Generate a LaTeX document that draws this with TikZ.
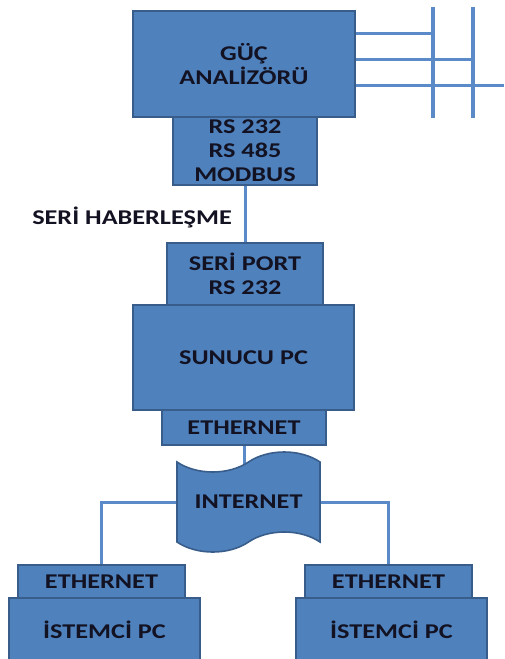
\documentclass[tikz,border=0pt]{standalone}
\usepackage{fontspec}
\newfontfamily\diagfont[FakeStretch=1.25]{Carlito}
\usetikzlibrary{shapes.symbols,backgrounds}
\definecolor{boxfill}{HTML}{4F81BD}
\definecolor{boxline}{HTML}{385D8A}
\definecolor{wire}{HTML}{5A8AC8}
\definecolor{ink}{HTML}{121222}
\begin{document}
\begin{tikzpicture}[x=1pt,y=-1pt,
  blk/.style={draw=boxline, fill=boxfill, line width=1.6pt, inner sep=0pt,
    text=ink, align=center,
    font=\diagfont\bfseries\fontsize{21}{24}\selectfont},
  wireline/.style={draw=wire, line width=3pt},
  barline/.style={draw=wire, line width=4pt},
  lbl/.style={text=ink, inner sep=0pt, font=\diagfont\bfseries\fontsize{21}{24}\selectfont}]
\useasboundingbox (0,0) rectangle (504,659);
% top device
\node[blk, minimum width=222pt, minimum height=106pt] (guc) at (244,64) {GÜÇ\\ANALİZÖRÜ};
\node[blk, minimum width=144pt, minimum height=68pt] (rs) at (245,151) {RS 232\\RS 485\\MODBUS};
\node[lbl] (seriLbl) at (132,217) {SERİ HABERLEŞME};
% server
\node[blk, minimum width=156pt, minimum height=62pt] (seri) at (245,274) {SERİ PORT\\RS 232};
\node[blk, minimum width=221pt, minimum height=105pt] (sunucu) at (243.5,357.5) {SUNUCU PC};
\node[blk, minimum width=164pt, minimum height=35pt] (eth) at (244,427.5) {ETHERNET};
% internet
\node[blk, tape, minimum width=143pt, minimum height=100pt, tape bend height=20pt] (inet) at (248.5,502) {INTERNET};
% clients
\node[blk, minimum width=167pt, minimum height=33pt] (ethL) at (101.5,581.5) {ETHERNET};
\node[blk, minimum width=191pt, minimum height=64pt] (istL) at (104.5,630) {İSTEMCİ PC};
\node[blk, minimum width=167pt, minimum height=33pt] (ethR) at (388.5,581.5) {ETHERNET};
\node[blk, minimum width=191pt, minimum height=64pt] (istR) at (391.5,630) {İSTEMCİ PC};
% power bus
\coordinate (b1t) at (433,7);
\coordinate (b1b) at (433,118);
\coordinate (b2t) at (473,7);
\coordinate (b2b) at (473,118);
\coordinate (l3e) at (504,85);
\begin{scope}[on background layer]
  \draw[barline] (b1t) -- (b1b);
  \draw[barline] (b2t) -- (b2b);
  \draw[wireline] (guc.east |- 0,33) -- (b1t |- 0,33);
  \draw[wireline] (guc.east |- 0,59) -- (b2t |- 0,59);
  \draw[wireline] (guc.east |- 0,85) -- (l3e);
  \draw[wireline] (rs.south) -- (seri.north);
  \draw[wireline] (eth.south) -- (eth.south |- inet.center);
  \draw[wireline] (inet.west) -| (ethL.north);
  \draw[wireline] (inet.east) -| (ethR.north);
\end{scope}
\end{tikzpicture}
\end{document}
